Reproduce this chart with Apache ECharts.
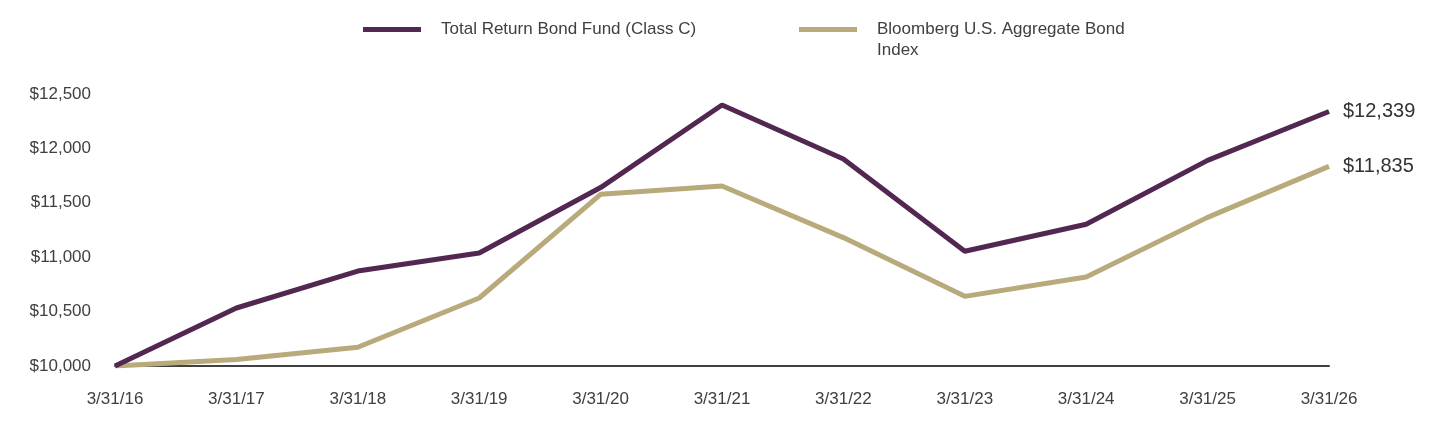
<!DOCTYPE html>
<html>
<head>
<meta charset="utf-8">
<script src="https://cdn.jsdelivr.net/npm/echarts@6/dist/echarts.min.js"></script>
<style>
html,body{margin:0;padding:0;background:#fff;}
#chart{width:1440px;height:432px;}
</style>
</head>
<body>
<div id="chart"></div>
<script>
const categories = ['3/31/16','3/31/17','3/31/18','3/31/19','3/31/20','3/31/21','3/31/22','3/31/23','3/31/24','3/31/25','3/31/26'];
const fundName = 'Total Return Bond Fund (Class C)';
const indexName = 'Bloomberg U.S. Aggregate Bond Index';
const fundValues = [10000, 10533, 10873, 11039, 11640, 12399, 11903, 11055, 11303, 11890, 12339];
const indexValues = [10000, 10060, 10172, 10625, 11578, 11654, 11180, 10640, 10818, 11366, 11835];
const yTicks = [10000, 10500, 11000, 11500, 12000, 12500];

const purple = '#522751';
const tan = '#b9aa7c';
const textColor = '#404040';
const narrow = '"Liberation Sans Narrow", "Arial Narrow", "Liberation Sans", sans-serif';

const chart = echarts.init(document.getElementById('chart'));
function fmt(v){ return '$' + v.toLocaleString('en-US'); }
function endLabel(){
  return {
    show: true,
    distance: 14,
    formatter: p => fmt(p.value),
    fontFamily: '"Liberation Sans", Arial, sans-serif',
    fontSize: 20,
    color: '#333'
  };
}
chart.setOption({
  animation: false,
  backgroundColor: '#fff',
  legend: [
    {
      data: [fundName],
      left: 358, top: 16,
      icon: 'rect', itemWidth: 58, itemHeight: 5,
      textStyle: { fontFamily: narrow, fontSize: 17, color: textColor, padding: [0,0,0,15] }
    },
    {
      data: [indexName],
      left: 794, top: -7,
      icon: 'rect', itemWidth: 58, itemHeight: 5,
      formatter: () => ' \nBloomberg U.S. Aggregate Bond\nIndex',
      textStyle: { fontFamily: narrow, fontSize: 17, color: textColor, lineHeight: 21, padding: [0,0,0,15] }
    }
  ],
  grid: { left: 115, right: 111, top: 94, bottom: 66 },
  xAxis: {
    type: 'category',
    data: categories,
    boundaryGap: false,
    axisLine: { show: true, lineStyle: { color: '#404040', width: 2 } },
    axisTick: { show: false },
    axisLabel: { color: textColor, fontFamily: narrow, fontSize: 17, margin: 25 },
    splitLine: { show: false }
  },
  yAxis: {
    type: 'value',
    min: yTicks[0], max: yTicks[yTicks.length-1], interval: 500,
    axisLine: { show: false },
    axisTick: { show: false },
    splitLine: { show: false },
    axisLabel: { color: textColor, fontFamily: narrow, fontSize: 17, margin: 24, formatter: v => fmt(v) }
  },
  series: [
    {
      name: fundName, type: 'line', data: fundValues,
      showSymbol: false, symbol: 'none',
      lineStyle: { color: purple, width: 5 }, itemStyle: { color: purple },
      endLabel: endLabel(), z: 3
    },
    {
      name: indexName, type: 'line', data: indexValues,
      showSymbol: false, symbol: 'none',
      lineStyle: { color: tan, width: 5 }, itemStyle: { color: tan },
      endLabel: endLabel(), z: 2
    }
  ]
});
</script>
</body>
</html>
